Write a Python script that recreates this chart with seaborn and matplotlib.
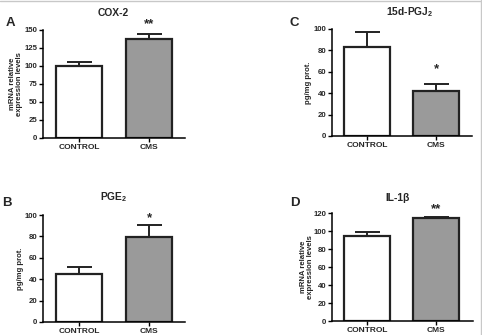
import numpy as np
import seaborn as sns
import matplotlib.pyplot as plt
from matplotlib.lines import Line2D
from matplotlib.transforms import blended_transform_factory

# Data
groups = ['CONTROL', 'CMS']
cox2_mean = [100, 137]
cox2_sem = [5, 8]
pgj2_mean = [83, 42]
pgj2_sem = [14, 7]
pge2_mean = [45, 79]
pge2_sem = [6, 12]
il1b_mean = [95, 114]
il1b_sem = [3.5, 2]

sns.set_theme(style='white')
plt.rcParams['font.family'] = ['Liberation Sans', 'DejaVu Sans']
plt.rcParams['font.weight'] = 'bold'
plt.rcParams['mathtext.default'] = 'regular'

fig = plt.figure(figsize=(4.82, 3.35), dpi=100)
bar_colors = ['white', '#9a9a9a']
edge = '#222222'

panels = [
    dict(letter='A', title='COX-2', mean=cox2_mean, sem=cox2_sem,
         ylabel='mRNA relative\nexpression levels', yticks=np.arange(0, 151, 25), ylim=150,
         rect=[43/482, 1-138/335, 142/482, 108/335], xlim=(-0.51, 1.51),
         tpos=(0.49, 1.155), lpos=(10, 23), star='**', stary=158, ylx=-0.19),
    dict(letter='C', title='15d-PGJ$_2$', mean=pgj2_mean, sem=pgj2_sem,
         ylabel='pg/mg prot.', yticks=np.arange(0, 101, 20), ylim=100,
         rect=[332/482, 1-136/335, 140/482, 107/335], xlim=(-0.51, 1.52),
         tpos=(0.62, 1.16), lpos=(294, 23), star='*', stary=62, ylx=-0.17),
    dict(letter='B', title='PGE$_2$', mean=pge2_mean, sem=pge2_sem,
         ylabel='pg/mg prot.', yticks=np.arange(0, 101, 20), ylim=100,
         rect=[43/482, 1-322/335, 142/482, 107/335], xlim=(-0.51, 1.51),
         tpos=(0.5, 1.17), lpos=(7, 203), star='*', stary=97, ylx=-0.16),
    dict(letter='D', title='IL-1β', mean=il1b_mean, sem=il1b_sem,
         ylabel='mRNA relative\nexpression levels', yticks=np.arange(0, 121, 20), ylim=120,
         rect=[332/482, 1-321/335, 141/482, 108/335], xlim=(-0.51, 1.54),
         tpos=(0.45, 1.14), lpos=(295, 203), star='**', stary=124, ylx=-0.175),
]

for p in panels:
    ax = fig.add_axes(p['rect'])
    sns.barplot(x=groups, y=p['mean'], hue=groups, palette=bar_colors, legend=False,
                edgecolor=edge, linewidth=1.6, width=0.66, ax=ax)
    ax.errorbar([0, 1], p['mean'], yerr=[np.zeros(2), p['sem']], fmt='none',
                ecolor=edge, elinewidth=1.4, capsize=9, capthick=1.4, zorder=1)
    ax.set_xlim(*p['xlim'])
    ax.set_ylim(0, p['ylim'])
    ax.set_yticks(p['yticks'])
    sns.despine(ax=ax)
    for s in ['left', 'bottom']:
        ax.spines[s].set_color('black')
        ax.spines[s].set_linewidth(1.1)
    ax.tick_params(axis='both', direction='out', length=3, width=1, color='black',
                   left=True, bottom=True, pad=1)
    ax.tick_params(axis='y', labelsize=5.6)
    ax.tick_params(axis='x', labelsize=6)
    for lab in ax.get_xticklabels() + ax.get_yticklabels():
        lab.set_fontweight('bold')
    ax.set_ylabel(p['ylabel'], fontsize=5.6, fontweight='bold', linespacing=1.0)
    ax.yaxis.set_label_coords(p['ylx'], 0.5)
    ax.yaxis.label.set_va('center')
    ax.set_xlabel('')
    tr = blended_transform_factory(ax.transData, ax.transAxes)
    ax.text(p['tpos'][0], p['tpos'][1], p['title'], transform=tr, ha='center', va='center',
            fontsize=7.4, fontweight='bold', clip_on=False)
    ax.text(1, p['stary'], p['star'], ha='center', va='center', fontsize=9.5,
            fontweight='bold', clip_on=False)
    fig.text(p['lpos'][0]/482, 1 - p['lpos'][1]/335, p['letter'], ha='center', va='center',
             fontsize=9.5, fontweight='bold')

# thin frame on top and right edge of the figure
fig.add_artist(Line2D([0, 1], [0.998, 0.998], transform=fig.transFigure, color='#c8c8c8', lw=1))
fig.add_artist(Line2D([0.998, 0.998], [0, 1], transform=fig.transFigure, color='#c8c8c8', lw=1))

fig.savefig('out.png', dpi=100)
